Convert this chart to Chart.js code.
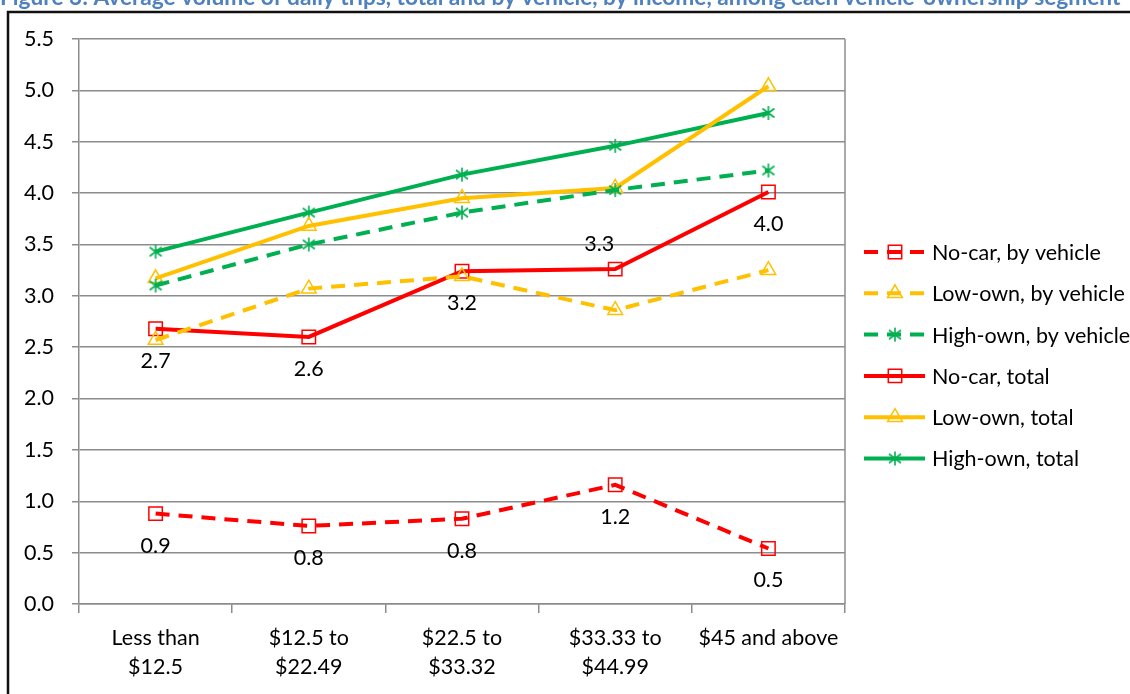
<!DOCTYPE html>
<html>
<head>
<meta charset="utf-8">
<script src="https://cdn.jsdelivr.net/npm/chart.js@4/dist/chart.umd.min.js"></script>
<style>
  html, body { margin: 0; padding: 0; background: #fff; }
  #wrap { width: 1130px; height: 694px; }
</style>
</head>
<body>
<div id="wrap"><canvas id="tripsChart" width="1130" height="694"></canvas></div>
<script>
// income bands on the x axis
const incomeBands = [['Less than', '$12.5'], ['$12.5 to', '$22.49'], ['$22.5 to', '$33.32'], ['$33.33 to', '$44.99'], '$45 and above'];

// average daily trips per segment
const noCarByVehicle   = [0.88, 0.76, 0.83, 1.16, 0.54];
const lowOwnByVehicle  = [2.57, 3.07, 3.19, 2.86, 3.25];
const highOwnByVehicle = [3.10, 3.50, 3.81, 4.03, 4.22];
const noCarTotal       = [2.68, 2.60, 3.24, 3.26, 4.01];
const lowOwnTotal      = [3.17, 3.68, 3.95, 4.05, 5.04];
const highOwnTotal     = [3.43, 3.81, 4.18, 4.46, 4.78];

const yTicks = [0, 0.5, 1, 1.5, 2, 2.5, 3, 3.5, 4, 4.5, 5, 5.5];

const titleText = 'Figure 3: Average volume of daily trips, total and by vehicle, by income, among each vehicle-ownership segment';

const RED = '#FF0000', GOLD = '#FFC000', GREEN = '#00B050';
const DASH = [14, 9];
const FONT_SIZE = 21.5;

function asterisk(color) {
    const c = document.createElement('canvas');
    c.width = 16; c.height = 16;
    const g = c.getContext('2d');
    g.strokeStyle = color;
    g.lineWidth = 1.6;
    g.beginPath();
    g.moveTo(8, 1); g.lineTo(8, 15);
    g.moveTo(2, 3.5); g.lineTo(14, 12.5);
    g.moveTo(14, 3.5); g.lineTo(2, 12.5);
    g.stroke();
    return c;
}
const greenStar = asterisk(GREEN);

function series(label, data, color, style, dashed) {
    return {
        label: label,
        data: data,
        borderColor: color,
        borderWidth: 4,
        borderDash: dashed ? DASH : [],
        pointStyle: style,
        pointRadius: style === 'rect' ? 9.5 : 8.5,
        pointBorderColor: color,
        pointBackgroundColor: 'rgba(0,0,0,0)',
        pointBorderWidth: 1.5,
        tension: 0,
        fill: false
    };
}

// which side of the point each No-car label sits on
const labelSide = {
    0: ['below', 'below', 'below', 'below', 'below'],
    3: ['below', 'below', 'below', 'above', 'below']
};

const framePlugin = {
    id: 'frame',
    beforeDraw(chart) {
        const ctx = chart.ctx;
        ctx.save();
        ctx.fillStyle = '#fff';
        ctx.fillRect(0, 0, chart.width, chart.height);

        // figure caption, sized to run across the page
        ctx.font = 'bold 20px Lato';
        const w = ctx.measureText(titleText).width;
        const size = 20 * 1121 / w;
        ctx.font = 'bold ' + size.toFixed(2) + 'px Lato';
        ctx.fillStyle = '#4F81BD';
        ctx.textBaseline = 'alphabetic';
        ctx.fillText(titleText, 0, 5);

        // outer box
        ctx.strokeStyle = '#111';
        ctx.lineWidth = 2.5;
        ctx.beginPath();
        ctx.moveTo(8, chart.height + 5);
        ctx.lineTo(8, 12);
        ctx.lineTo(chart.width + 5, 12);
        ctx.stroke();
        ctx.restore();
    },
    afterDraw(chart) {
        const ctx = chart.ctx;
        const area = chart.chartArea;
        ctx.save();
        // right edge of the plot area
        ctx.strokeStyle = '#8c8c8c';
        ctx.lineWidth = 1.5;
        ctx.beginPath();
        ctx.moveTo(area.right, area.top);
        ctx.lineTo(area.right, area.bottom);
        ctx.stroke();

        // value labels on the No-car series
        ctx.font = FONT_SIZE + 'px Lato';
        ctx.fillStyle = '#000';
        ctx.textAlign = 'center';
        ctx.textBaseline = 'middle';
        Object.keys(labelSide).forEach(function(k) {
            const idx = Number(k);
            const meta = chart.getDatasetMeta(idx);
            const values = chart.data.datasets[idx].data;
            meta.data.forEach(function(pt, i) {
                const above = labelSide[idx][i] === 'above';
                const dx = above ? -16 : 0;
                const dy = above ? -25 : 32;
                ctx.fillText(values[i].toFixed(1), pt.x + dx, pt.y + dy);
            });
        });

        // legend: line sample with marker, then name
        const x0 = 864, x1 = 925, xm = 895, ty = 252, step = 41.3;
        chart.data.datasets.forEach(function(ds, i) {
            const y = ty + i * step;
            ctx.strokeStyle = ds.borderColor;
            ctx.lineWidth = ds.borderWidth;
            ctx.setLineDash(ds.borderDash);
            ctx.beginPath();
            ctx.moveTo(x0, y);
            ctx.lineTo(x1, y);
            ctx.stroke();
            ctx.setLineDash([]);
            ctx.fillStyle = 'rgba(0,0,0,0)';
            ctx.lineWidth = ds.pointBorderWidth;
            Chart.helpers.drawPoint(ctx, {
                pointStyle: ds.pointStyle,
                radius: ds.pointRadius,
                rotation: 0,
                borderWidth: ds.pointBorderWidth
            }, xm, y);
            ctx.fillStyle = '#000';
            ctx.textAlign = 'left';
            ctx.textBaseline = 'middle';
            ctx.fillText(ds.label, 932, y + 1);
        });
        ctx.restore();
    }
};

const ctx = document.getElementById('tripsChart').getContext('2d');
Chart.defaults.font.family = 'Lato';
Chart.defaults.font.size = FONT_SIZE;
Chart.defaults.color = '#000';

new Chart(ctx, {
    type: 'line',
    data: {
        labels: incomeBands,
        datasets: [
            series('No-car, by vehicle', noCarByVehicle, RED, 'rect', true),
            series('Low-own, by vehicle', lowOwnByVehicle, GOLD, 'triangle', true),
            series('High-own, by vehicle', highOwnByVehicle, GREEN, greenStar, true),
            series('No-car, total', noCarTotal, RED, 'rect', false),
            series('Low-own, total', lowOwnTotal, GOLD, 'triangle', false),
            series('High-own, total', highOwnTotal, GREEN, greenStar, false)
        ]
    },
    options: {
        responsive: false,
        animation: false,
        devicePixelRatio: 1,
        layout: { padding: { top: 39, right: 285, bottom: 0, left: 0 } },
        plugins: {
            legend: { display: false },
            tooltip: { enabled: false }
        },
        scales: {
            x: {
                offset: true,
                afterFit: s => { s.height = 90; },
                grid: { offset: true, drawOnChartArea: false, color: '#8c8c8c', lineWidth: 1.5, tickLength: 9 },
                border: { color: '#8c8c8c', width: 1.5 },
                ticks: { color: '#000', padding: 11, maxRotation: 0, autoSkip: false, font: { size: FONT_SIZE, lineHeight: 1.35 } }
            },
            y: {
                min: 0,
                max: 5.5,
                afterBuildTicks: s => { s.ticks = yTicks.map(v => ({ value: v })); },
                afterFit: s => { s.width = 79; },
                grid: { color: '#8c8c8c', lineWidth: 1.5, tickLength: 7 },
                border: { color: '#8c8c8c', width: 1.5 },
                ticks: { color: '#000', padding: 18, callback: v => v.toFixed(1), font: { size: FONT_SIZE } }
            }
        }
    },
    plugins: [framePlugin]
});
</script>
</body>
</html>
